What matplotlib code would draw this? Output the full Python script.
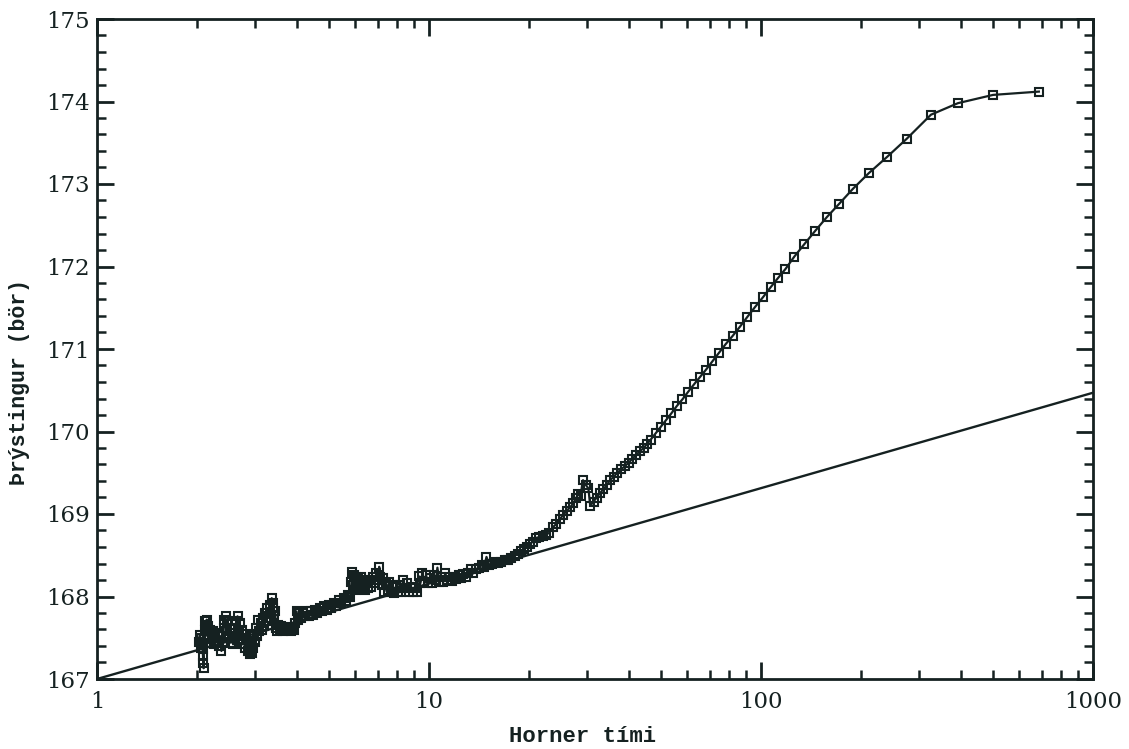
import matplotlib
matplotlib.use("Agg")
import matplotlib.pyplot as plt
from matplotlib.ticker import FixedLocator, FixedFormatter, MultipleLocator, LogLocator, NullFormatter

# Horner plot: pressure build-up vs Horner time (log axis)
horner_time = [
    2.03, 2.04, 2.05, 2.06, 2.07, 2.08, 2.085, 2.09, 2.095, 2.10,
    2.11, 2.12, 2.13, 2.14, 2.15, 2.16, 2.18, 2.19, 2.21, 2.23,
    2.25, 2.27, 2.29, 2.31, 2.33, 2.35, 2.37, 2.39, 2.41, 2.42,
    2.44, 2.45, 2.47, 2.49, 2.51, 2.53, 2.55, 2.57, 2.59, 2.61,
    2.63, 2.65, 2.67, 2.69, 2.71, 2.73, 2.75, 2.77, 2.79, 2.81,
    2.84, 2.86, 2.88, 2.90, 2.92, 2.94, 2.96, 2.98, 3.00, 3.02,
    3.04, 3.06, 3.08, 3.11, 3.13, 3.16, 3.18, 3.21, 3.23, 3.26,
    3.28, 3.31, 3.33, 3.36, 3.38, 3.40, 3.42, 3.44, 3.46, 3.48,
    3.51, 3.55, 3.59, 3.63, 3.68, 3.73, 3.78, 3.83, 3.88, 3.92,
    3.96, 3.99, 4.03, 4.07, 4.12, 4.17, 4.22, 4.28, 4.34, 4.40,
    4.47, 4.54, 4.61, 4.68, 4.76, 4.84, 4.92, 5.00, 5.08, 5.17,
    5.26, 5.35, 5.44, 5.53, 5.62, 5.71, 5.80, 5.84, 5.87, 5.90,
    5.94, 5.98, 6.02, 6.07, 6.12, 6.17, 6.23, 6.29, 6.35, 6.41,
    6.48, 6.55, 6.62, 6.70, 6.78, 6.86, 6.94, 7.02, 7.08, 7.14,
    7.20, 7.27, 7.34, 7.42, 7.50, 7.59, 7.68, 7.77, 7.86, 7.95,
    8.05, 8.15, 8.25, 8.36, 8.47, 8.58, 8.70, 8.82, 8.94, 9.06,
    9.18, 9.30, 9.42, 9.55, 9.68, 9.80, 9.93, 10.05,
    10.2, 10.35, 10.5, 10.6, 10.75, 10.9, 11.05, 11.2, 11.35, 11.5,
    11.7, 11.9, 12.1, 12.3, 12.5, 12.7, 12.9, 13.1, 13.35, 13.6,
    13.85, 14.1, 14.4, 14.65, 14.9, 15.2, 15.5, 15.8, 16.1, 16.5,
    16.9, 17.3, 17.7, 18.1, 18.5, 18.9, 19.3, 19.7, 20.1, 20.5,
    21.0, 21.5, 22.0, 22.5, 23.0, 23.6, 24.2, 24.8, 25.4, 26.0,
    26.6, 27.2, 27.7, 28.2, 28.6, 29.1, 29.7, 30.2, 30.6, 31.3,
    32.0, 32.7, 33.5, 34.3, 35.1, 36.0, 36.9, 37.9, 38.9, 39.9,
    41.0, 42.1, 43.2, 44.3, 45.4,
    46.5, 48.2, 50.0, 51.8, 53.7, 55.8, 58.0, 60.3, 62.8, 65.5,
    68.3, 71.4, 74.7, 78.3, 82.2, 86.4, 91.0, 96.0, 101.5, 107.0,
    112.5, 118.5, 126.0, 135.0, 145.5, 158.0, 172.0, 189.0, 211.0, 240.0,
    275.0, 325.0, 392.0, 500.0, 687.0,
]

pressure = [
    167.45, 167.53, 167.38, 167.50, 167.42, 167.36, 167.28, 167.20, 167.13, 167.48,
    167.60, 167.70, 167.66, 167.72, 167.52, 167.64, 167.48, 167.60, 167.44, 167.58,
    167.42, 167.55, 167.46, 167.56, 167.40, 167.52, 167.34, 167.45, 167.62, 167.72,
    167.76, 167.58, 167.70, 167.50, 167.62, 167.44, 167.56, 167.42, 167.52, 167.62,
    167.70, 167.76, 167.56, 167.68, 167.48, 167.60, 167.42, 167.54, 167.38, 167.50,
    167.34, 167.44, 167.30, 167.40, 167.32, 167.46, 167.38, 167.55, 167.45, 167.62,
    167.52, 167.72, 167.58, 167.68, 167.60, 167.74, 167.64, 167.80, 167.70, 167.86,
    167.74, 167.90, 167.80, 167.98, 167.86, 167.92, 167.78, 167.82, 167.62, 167.58,
    167.66, 167.60, 167.64, 167.58, 167.62, 167.59, 167.63, 167.58, 167.62, 167.60,
    167.68, 167.82, 167.72, 167.80, 167.74, 167.80, 167.76, 167.82, 167.76, 167.82,
    167.78, 167.84, 167.80, 167.86, 167.82, 167.88, 167.84, 167.90, 167.86, 167.92,
    167.88, 167.96, 167.92, 167.98, 167.95, 168.02, 168.00, 168.18, 168.30, 168.14,
    168.26, 168.08, 168.24, 168.12, 168.22, 168.10, 168.24, 168.12, 168.20, 168.08,
    168.18, 168.10, 168.20, 168.12, 168.24, 168.16, 168.28, 168.20, 168.36, 168.24,
    168.14, 168.22, 168.06, 168.16, 168.08, 168.18, 168.06, 168.14, 168.04, 168.12,
    168.06, 168.14, 168.06, 168.20, 168.10, 168.16, 168.06, 168.12, 168.05, 168.10,
    168.06, 168.25, 168.16, 168.28, 168.18, 168.26, 168.16, 168.22,
    168.16, 168.26, 168.20, 168.35, 168.18, 168.24, 168.18, 168.28, 168.20, 168.24,
    168.19, 168.24, 168.21, 168.26, 168.22, 168.27, 168.24, 168.29, 168.33, 168.28,
    168.33, 168.35, 168.38, 168.36, 168.48, 168.38, 168.40, 168.42, 168.41, 168.42,
    168.44, 168.44, 168.47, 168.49, 168.52, 168.55, 168.58, 168.60, 168.64, 168.66,
    168.71, 168.72, 168.73, 168.75, 168.77, 168.84, 168.88, 168.94, 168.99, 169.04,
    169.08, 169.13, 169.19, 169.24, 169.22, 169.41, 169.35, 169.31, 169.10, 169.15,
    169.20, 169.25, 169.30, 169.35, 169.41, 169.45, 169.50, 169.54, 169.58, 169.62,
    169.67, 169.72, 169.76, 169.80, 169.85,
    169.90, 169.98, 170.06, 170.14, 170.22, 170.31, 170.39, 170.48, 170.57, 170.66,
    170.75, 170.85, 170.95, 171.06, 171.16, 171.27, 171.39, 171.51, 171.63, 171.75,
    171.86, 171.97, 172.12, 172.27, 172.43, 172.60, 172.76, 172.94, 173.13, 173.33,
    173.55, 173.84, 173.98, 174.08, 174.12,
]

# Straight-line fit through the early-time data
fit_time = [1, 1000]
fit_pressure = [167.0, 170.47]

x_ticks = [1, 10, 100, 1000]
x_tick_labels = ["1", "10", "100", "1000"]
y_ticks = [167, 168, 169, 170, 171, 172, 173, 174, 175]
y_tick_labels = ["167", "168", "169", "170", "171", "172", "173", "174", "175"]

ink = "#152121"

fig = plt.figure(figsize=(11.29, 7.49), dpi=100)
fig.patch.set_facecolor("white")
ax = fig.add_axes([97 / 1129, 1 - 679 / 749, (1093 - 97) / 1129, (679 - 19) / 749])

ax.plot(fit_time, fit_pressure, color=ink, lw=1.7, solid_capstyle="butt")
ax.plot(horner_time, pressure, color=ink, lw=1.6, marker="s", markersize=5.6,
        markerfacecolor="none", markeredgecolor=ink, markeredgewidth=1.5)

ax.set_xscale("log")
ax.set_xlim(1, 1000)
ax.set_ylim(167, 175)

ax.xaxis.set_major_locator(FixedLocator(x_ticks))
ax.xaxis.set_major_formatter(FixedFormatter(x_tick_labels))
ax.xaxis.set_minor_locator(LogLocator(base=10, subs=[2, 3, 4, 5, 6, 7, 8, 9]))
ax.xaxis.set_minor_formatter(NullFormatter())
ax.yaxis.set_major_locator(FixedLocator(y_ticks))
ax.yaxis.set_major_formatter(FixedFormatter(y_tick_labels))
ax.yaxis.set_minor_locator(MultipleLocator(0.2))

for side in ax.spines.values():
    side.set_linewidth(2.0)
    side.set_color(ink)

ax.tick_params(which="both", direction="in", top=True, right=True, color=ink)
ax.tick_params(which="major", length=12, width=2.0)
ax.tick_params(which="minor", length=6.5, width=1.8)
ax.tick_params(axis="y", which="major", pad=5)
ax.tick_params(axis="x", which="major", pad=9)

for lab in ax.get_xticklabels() + ax.get_yticklabels():
    lab.set_fontfamily("DejaVu Serif")
    lab.set_fontsize(16.5)
    lab.set_color(ink)

fig.text(583 / 1129, 1 - 736 / 749, "Horner tími", ha="center", va="center",
         fontsize=16, fontfamily="Liberation Mono", fontweight="bold", color=ink)
fig.text(20 / 1129, 1 - 382 / 749, "Þrýstingur (bör)", ha="center", va="center",
         rotation=90, fontsize=15.5, fontfamily="Liberation Mono", fontweight="bold",
         color=ink)

fig.savefig("out.png", dpi=100, facecolor="white")
